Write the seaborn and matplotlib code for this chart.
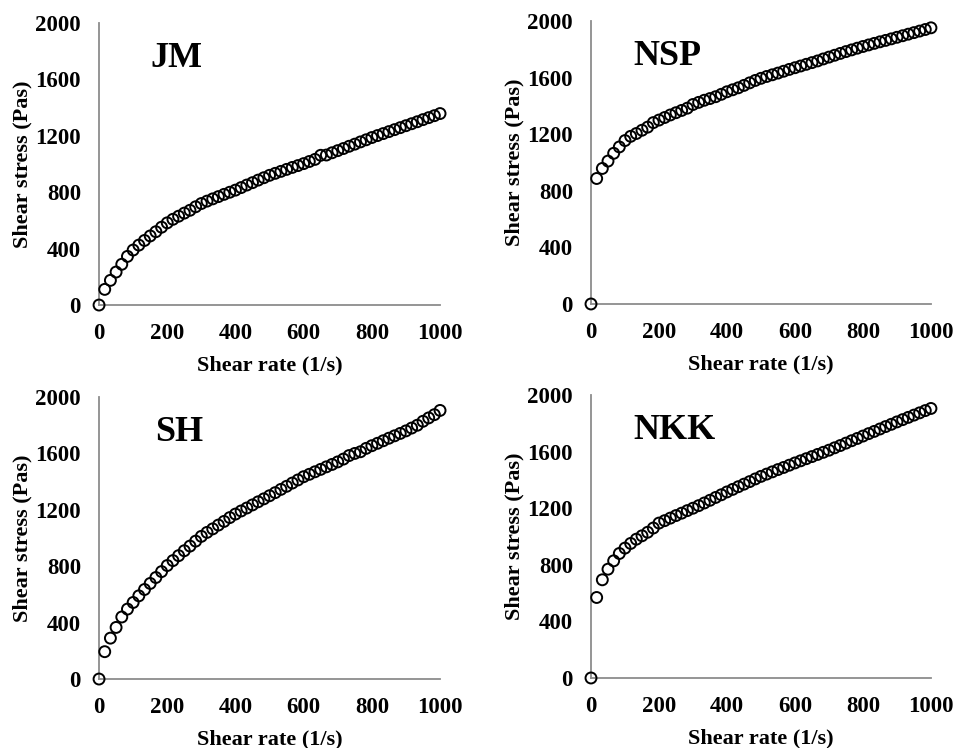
import numpy as np
import pandas as pd
import matplotlib
matplotlib.use("Agg")
import matplotlib.pyplot as plt
import seaborn as sns

# ---- data ----
shear_rate = [round(i * 1000 / 60, 2) for i in range(61)]

jm = [0, 111, 175, 234, 289, 345, 390, 425, 458, 490, 520, 552, 583, 608, 630, 652,
      672, 697, 720, 737, 753, 769, 785, 800, 815, 833, 851, 868, 886, 903, 920, 934,
      948, 962, 976, 989, 1003, 1018, 1033, 1062, 1064, 1080, 1095, 1110, 1126, 1141,
      1157, 1172, 1188, 1202, 1216, 1230, 1244, 1258, 1272, 1286, 1300, 1315, 1329,
      1343, 1358]

nsp = [0, 887, 958, 1010, 1065, 1110, 1155, 1185, 1205, 1228, 1250, 1282, 1300, 1318,
       1336, 1352, 1368, 1384, 1410, 1425, 1440, 1452, 1465, 1482, 1500, 1514, 1528,
       1545, 1563, 1580, 1595, 1608, 1620, 1632, 1645, 1658, 1670, 1682, 1694, 1706,
       1718, 1732, 1745, 1758, 1771, 1784, 1796, 1808, 1820, 1831, 1842, 1853, 1863,
       1874, 1885, 1896, 1907, 1918, 1929, 1940, 1952]

sh = [0, 194, 290, 366, 440, 496, 543, 590, 635, 678, 720, 762, 805, 840, 875, 910,
      943, 978, 1012, 1040, 1065, 1092, 1118, 1145, 1170, 1192, 1213, 1235, 1257, 1278,
      1300, 1322, 1345, 1367, 1390, 1412, 1435, 1452, 1470, 1487, 1505, 1522, 1540,
      1560, 1585, 1600, 1612, 1636, 1655, 1672, 1690, 1708, 1725, 1742, 1760, 1780,
      1800, 1828, 1852, 1875, 1905]

nkk = [0, 569, 694, 769, 828, 880, 918, 951, 981, 1005, 1030, 1060, 1095, 1112, 1130,
       1148, 1165, 1183, 1200, 1218, 1237, 1256, 1276, 1295, 1315, 1333, 1352, 1370,
       1388, 1407, 1425, 1441, 1457, 1473, 1488, 1504, 1520, 1535, 1550, 1565, 1580,
       1595, 1610, 1627, 1643, 1660, 1677, 1693, 1710, 1727, 1743, 1760, 1777, 1793,
       1810, 1826, 1842, 1858, 1874, 1890, 1905]

panel_names = ["JM", "NSP", "SH", "NKK"]
panel_values = [jm, nsp, sh, nkk]
x_ticks = [0, 200, 400, 600, 800, 1000]
y_ticks = [0, 400, 800, 1200, 1600, 2000]
x_label = "Shear rate (1/s)"
y_label = "Shear stress (Pas)"

# ---- style ----
sns.set_style("white")
plt.rcParams["font.family"] = ["Liberation Serif", "DejaVu Serif"]
plt.rcParams["font.weight"] = "bold"
plt.rcParams["text.color"] = "black"
plt.rcParams["axes.labelcolor"] = "black"

fig = plt.figure(figsize=(9.56, 7.48), dpi=100)

# axes rectangles [left, bottom, width, height] in figure fraction
rects = [
    [0.1036, 0.5922, 0.3567, 0.3770],
    [0.6182, 0.5936, 0.3556, 0.3783],
    [0.1036, 0.0922, 0.3567, 0.3770],
    [0.6182, 0.0936, 0.3556, 0.3783],
]
title_x = [0.15, 0.126, 0.164, 0.126]

spine_col = "#8c8c8c"

for name, vals, rect, tx in zip(panel_names, panel_values, rects, title_x):
    ax = fig.add_axes(rect)
    df = pd.DataFrame({"rate": shear_rate, "stress": vals})
    sns.scatterplot(data=df, x="rate", y="stress", ax=ax, s=62,
                    facecolor="none", edgecolor="black", linewidth=1.4,
                    marker="o", clip_on=False, zorder=3)
    ax.set_xlim(0, 1000)
    ax.set_ylim(0, 2000)
    ax.set_xticks(x_ticks)
    ax.set_yticks(y_ticks)
    ax.set_xticklabels([str(t) for t in x_ticks], fontsize=16.5, fontweight="bold")
    ax.set_yticklabels([str(t) for t in y_ticks], fontsize=16.5, fontweight="bold")
    ax.set_xlabel(x_label, fontsize=16, fontweight="bold", labelpad=8.5)
    ax.set_ylabel(y_label, fontsize=16, fontweight="bold", labelpad=2)
    for side in ["top", "right"]:
        ax.spines[side].set_visible(False)
    for side in ["left", "bottom"]:
        ax.spines[side].set_color(spine_col)
        ax.spines[side].set_linewidth(1.3)
    ax.tick_params(axis="both", which="major", direction="out", length=5,
                   width=1.3, color=spine_col, labelcolor="black")
    ax.tick_params(axis="x", pad=8)
    ax.tick_params(axis="y", pad=8)
    ax.text(tx, 0.876, name, transform=ax.transAxes, fontsize=26,
            fontweight="bold", ha="left", va="center", color="black")

fig.savefig("out.png", dpi=100)
